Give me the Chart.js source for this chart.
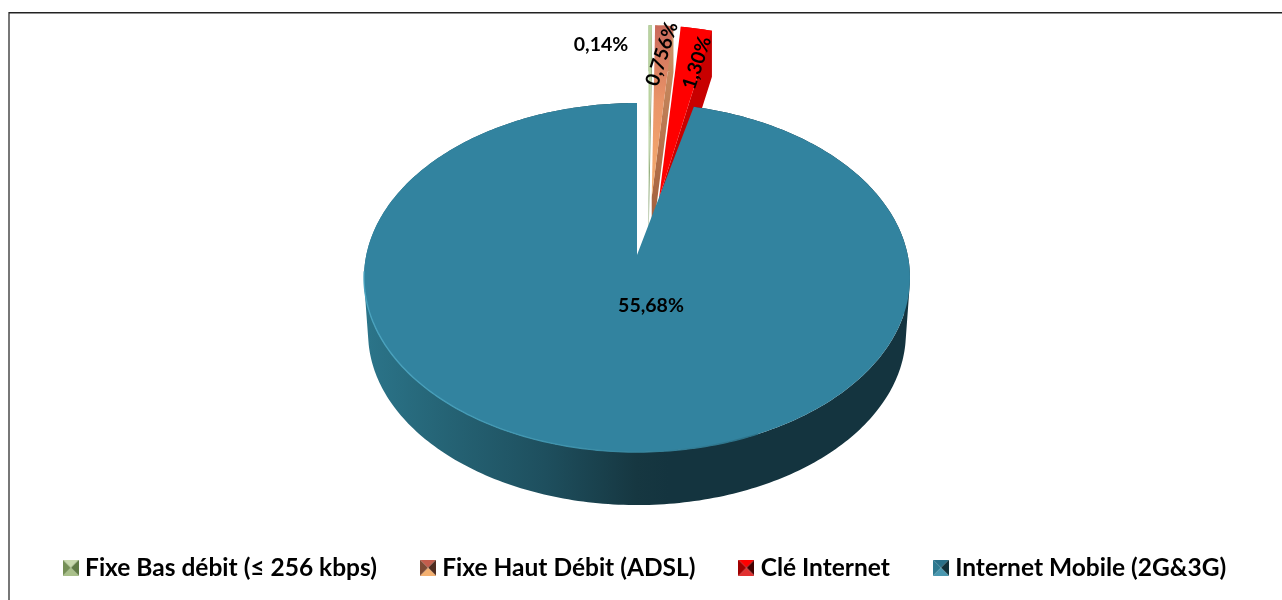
<!DOCTYPE html>
<html lang="fr">
<head>
<meta charset="utf-8">
<title>Internet</title>
<script src="https://cdn.jsdelivr.net/npm/chart.js@4/dist/chart.umd.min.js"></script>
<style>
  html, body { margin: 0; padding: 0; background: #fff; overflow: hidden; }
  #wrap { width: 1282px; height: 600px; }
</style>
</head>
<body>
<div id="wrap"><canvas id="myPieChart"></canvas></div>
<script>
// data
var categories = ['Fixe Bas débit (≤ 256 kbps)', 'Fixe Haut Débit (ADSL)', 'Clé Internet', 'Internet Mobile (2G&3G)'];
var seriesValues = [0.14, 0.756, 1.30, 55.68];
var valueLabels = ['0,14%', '0,756%', '1,30%', '55,68%'];

// colours
var sliceColors = ['#b9d39f', '#ea9468', '#ff0000', '#32839f'];
var swatchColors = [
  { top: '#c8d9ae', left: '#748f55', right: '#5f7a45', bottom: '#a9c08a' },
  { top: '#c25c4c', left: '#7c4a35', right: '#4e2c20', bottom: '#f4b070' },
  { top: '#ff0000', left: '#a00000', right: '#420000', bottom: '#e23030' },
  { top: '#2a7088', left: '#2f7a90', right: '#123038', bottom: '#4a98b0' }
];

// the flat pie, seen with perspective
var mainView = { cx: 637, cy: 255, a: 270.7, b: 171.6, p: -0.129, depth: 56, shrink: 0.985, explode: 0 };
// the three pulled out slices
var pulledView = { cx: 648, cy: 248, a: 224, b: 172, p: 0, depth: 46, shrink: 1, explode: 0.295 };

function project(view, mid, ang, r, low) {
  var u = view.explode * Math.cos(mid) + r * Math.cos(ang);
  var v = view.explode * Math.sin(mid) + r * Math.sin(ang);
  var den = 1 + view.p * v;
  var k = low ? view.shrink : 1;
  return {
    x: view.cx + k * view.a * u / den,
    y: view.cy + k * view.b * v / den + (low ? view.depth : 0)
  };
}

function rimPoints(view, arc, low) {
  var mid = (arc.startAngle + arc.endAngle) / 2;
  var pts = [];
  var n = Math.max(6, Math.round((arc.endAngle - arc.startAngle) * 60));
  for (var i = 0; i <= n; i++) {
    pts.push(project(view, mid, arc.startAngle + (arc.endAngle - arc.startAngle) * i / n, 1, low));
  }
  return pts;
}

function addPoly(ctx, pts) {
  pts.forEach(function (p, i) { i ? ctx.lineTo(p.x, p.y) : ctx.moveTo(p.x, p.y); });
  ctx.closePath();
}

// adds a quad, always wound the same way so all of them fill as one shape
function addQuad(ctx, q) {
  var area = 0;
  for (var i = 0; i < 4; i++) {
    var n = q[(i + 1) % 4];
    area += q[i].x * n.y - n.x * q[i].y;
  }
  addPoly(ctx, area < 0 ? q.slice().reverse() : q);
}

function drawWall(ctx, view, arc, fill) {
  var mid = (arc.startAngle + arc.endAngle) / 2;
  var top = rimPoints(view, arc, false);
  var low = rimPoints(view, arc, true);
  ctx.fillStyle = fill;
  ctx.beginPath();
  for (var i = 0; i < top.length - 1; i++) {
    addQuad(ctx, [top[i], top[i + 1], low[i + 1], low[i]]);
  }
  // right hand cut face of the slice
  addQuad(ctx, [
    project(view, mid, arc.endAngle, 0, false),
    project(view, mid, arc.endAngle, 1, false),
    project(view, mid, arc.endAngle, 1, true),
    project(view, mid, arc.endAngle, 0, true)
  ]);
  ctx.fill();
}

function drawTop(ctx, view, arc, fill) {
  var mid = (arc.startAngle + arc.endAngle) / 2;
  var pts = [project(view, mid, arc.startAngle, 0, false)].concat(rimPoints(view, arc, false));
  ctx.beginPath();
  addPoly(ctx, pts);
  ctx.fillStyle = fill;
  ctx.fill();
}

function hGrad(ctx, x0, x1, stops) {
  var g = ctx.createLinearGradient(x0, 0, x1, 0);
  stops.forEach(function (s) { g.addColorStop(s[0], s[1]); });
  return g;
}

function vGrad(ctx, y0, y1, stops) {
  var g = ctx.createLinearGradient(0, y0, 0, y1);
  stops.forEach(function (s) { g.addColorStop(s[0], s[1]); });
  return g;
}

// replaces the flat arcs by the 3D looking pie
var pie3d = {
  id: 'pie3d',
  beforeDraw: function (chart) {
    var ctx = chart.ctx;
    ctx.save();
    ctx.fillStyle = '#777777';
    ctx.fillRect(8, 12, 2, 588);
    ctx.fillStyle = '#222222';
    ctx.fillRect(9, 12, 1273, 1.5);
    ctx.restore();
  },
  beforeDatasetDraw: function (chart, args) {
    var ctx = chart.ctx;
    var arcs = args.meta.data;
    ctx.save();

    // green
    drawWall(ctx, pulledView, arcs[0], '#8ea878');
    drawTop(ctx, pulledView, arcs[0], sliceColors[0]);

    // orange
    drawWall(ctx, pulledView, arcs[1], vGrad(ctx, 25, 210, [[0, '#cf9a6c'], [0.6, '#b9744e'], [1, '#a5623f']]));
    drawTop(ctx, pulledView, arcs[1], vGrad(ctx, 25, 195, [[0, '#c9695a'], [0.45, '#ea9468'], [1, '#f6ae70']]));

    // red
    drawWall(ctx, pulledView, arcs[2], '#c80000');
    drawTop(ctx, pulledView, arcs[2], sliceColors[2]);

    // blue, in front of the others
    var blue = arcs[3];
    drawWall(ctx, mainView, blue, hGrad(ctx, 368, 905, [
      [0, '#2b7489'], [0.12, '#266678'], [0.33, '#1e4f5e'], [0.5, '#163741'], [0.56, '#14343f'], [1, '#14343f']
    ]));
    drawTop(ctx, mainView, blue, sliceColors[3]);

    // light edge along the front left of the rim
    var rim = rimPoints(mainView, blue, false).filter(function (p) { return p.y > 270 && p.x < 760; });
    ctx.beginPath();
    rim.forEach(function (p, i) { i ? ctx.lineTo(p.x, p.y) : ctx.moveTo(p.x, p.y); });
    ctx.lineWidth = 1.4;
    ctx.strokeStyle = hGrad(ctx, 364, 760, [[0, '#4aa3bf'], [0.5, '#3f93ad'], [1, '#2a6f86']]);
    ctx.stroke();

    ctx.restore();
    return false;
  },
  afterDatasetsDraw: function (chart) {
    var ctx = chart.ctx;
    ctx.save();
    ctx.fillStyle = '#000';
    ctx.font = 'bold 19.5px Lato';
    ctx.textAlign = 'center';
    ctx.textBaseline = 'middle';
    ctx.fillText(valueLabels[0], 601, 45);
    ctx.fillText(valueLabels[3], 651, 306);
    [[1, 662, 54], [2, 697, 63]].forEach(function (l) {
      ctx.save();
      ctx.translate(l[1], l[2]);
      ctx.rotate(-72 * Math.PI / 180);
      ctx.fillText(valueLabels[l[0]], 0, 0);
      ctx.restore();
    });
    ctx.restore();
  }
};

function swatch(c) {
  var s = document.createElement('canvas');
  s.width = 16;
  s.height = 16;
  var g = s.getContext('2d');
  [[c.top, 0, 0, 16, 0], [c.right, 16, 0, 16, 16], [c.bottom, 16, 16, 0, 16], [c.left, 0, 16, 0, 0]].forEach(function (t) {
    g.fillStyle = t[0];
    g.beginPath();
    g.moveTo(8, 8);
    g.lineTo(t[1], t[2]);
    g.lineTo(t[3], t[4]);
    g.closePath();
    g.fill();
  });
  return s;
}

var ctx = document.getElementById('myPieChart').getContext('2d');
var myPieChart = new Chart(ctx, {
  type: 'pie',
  data: {
    labels: categories,
    datasets: [{
      data: seriesValues,
      backgroundColor: sliceColors,
      borderWidth: 0
    }]
  },
  options: {
    responsive: true,
    maintainAspectRatio: false,
    animation: false,
    events: [],
    layout: { padding: { bottom: 10, left: 13 } },
    plugins: {
      tooltip: { enabled: false },
      legend: {
        position: 'bottom',
        labels: {
          usePointStyle: true,
          pointStyleWidth: 4,
          padding: 49,
          color: '#000',
          font: { family: 'Lato', weight: 'bold', size: 24.5 },
          generateLabels: function () {
            return categories.map(function (name, i) {
              return {
                text: name,
                pointStyle: swatch(swatchColors[i]),
                fontColor: '#000',
                lineWidth: 0,
                index: i
              };
            });
          }
        }
      }
    }
  },
  plugins: [pie3d]
});
</script>
</body>
</html>
